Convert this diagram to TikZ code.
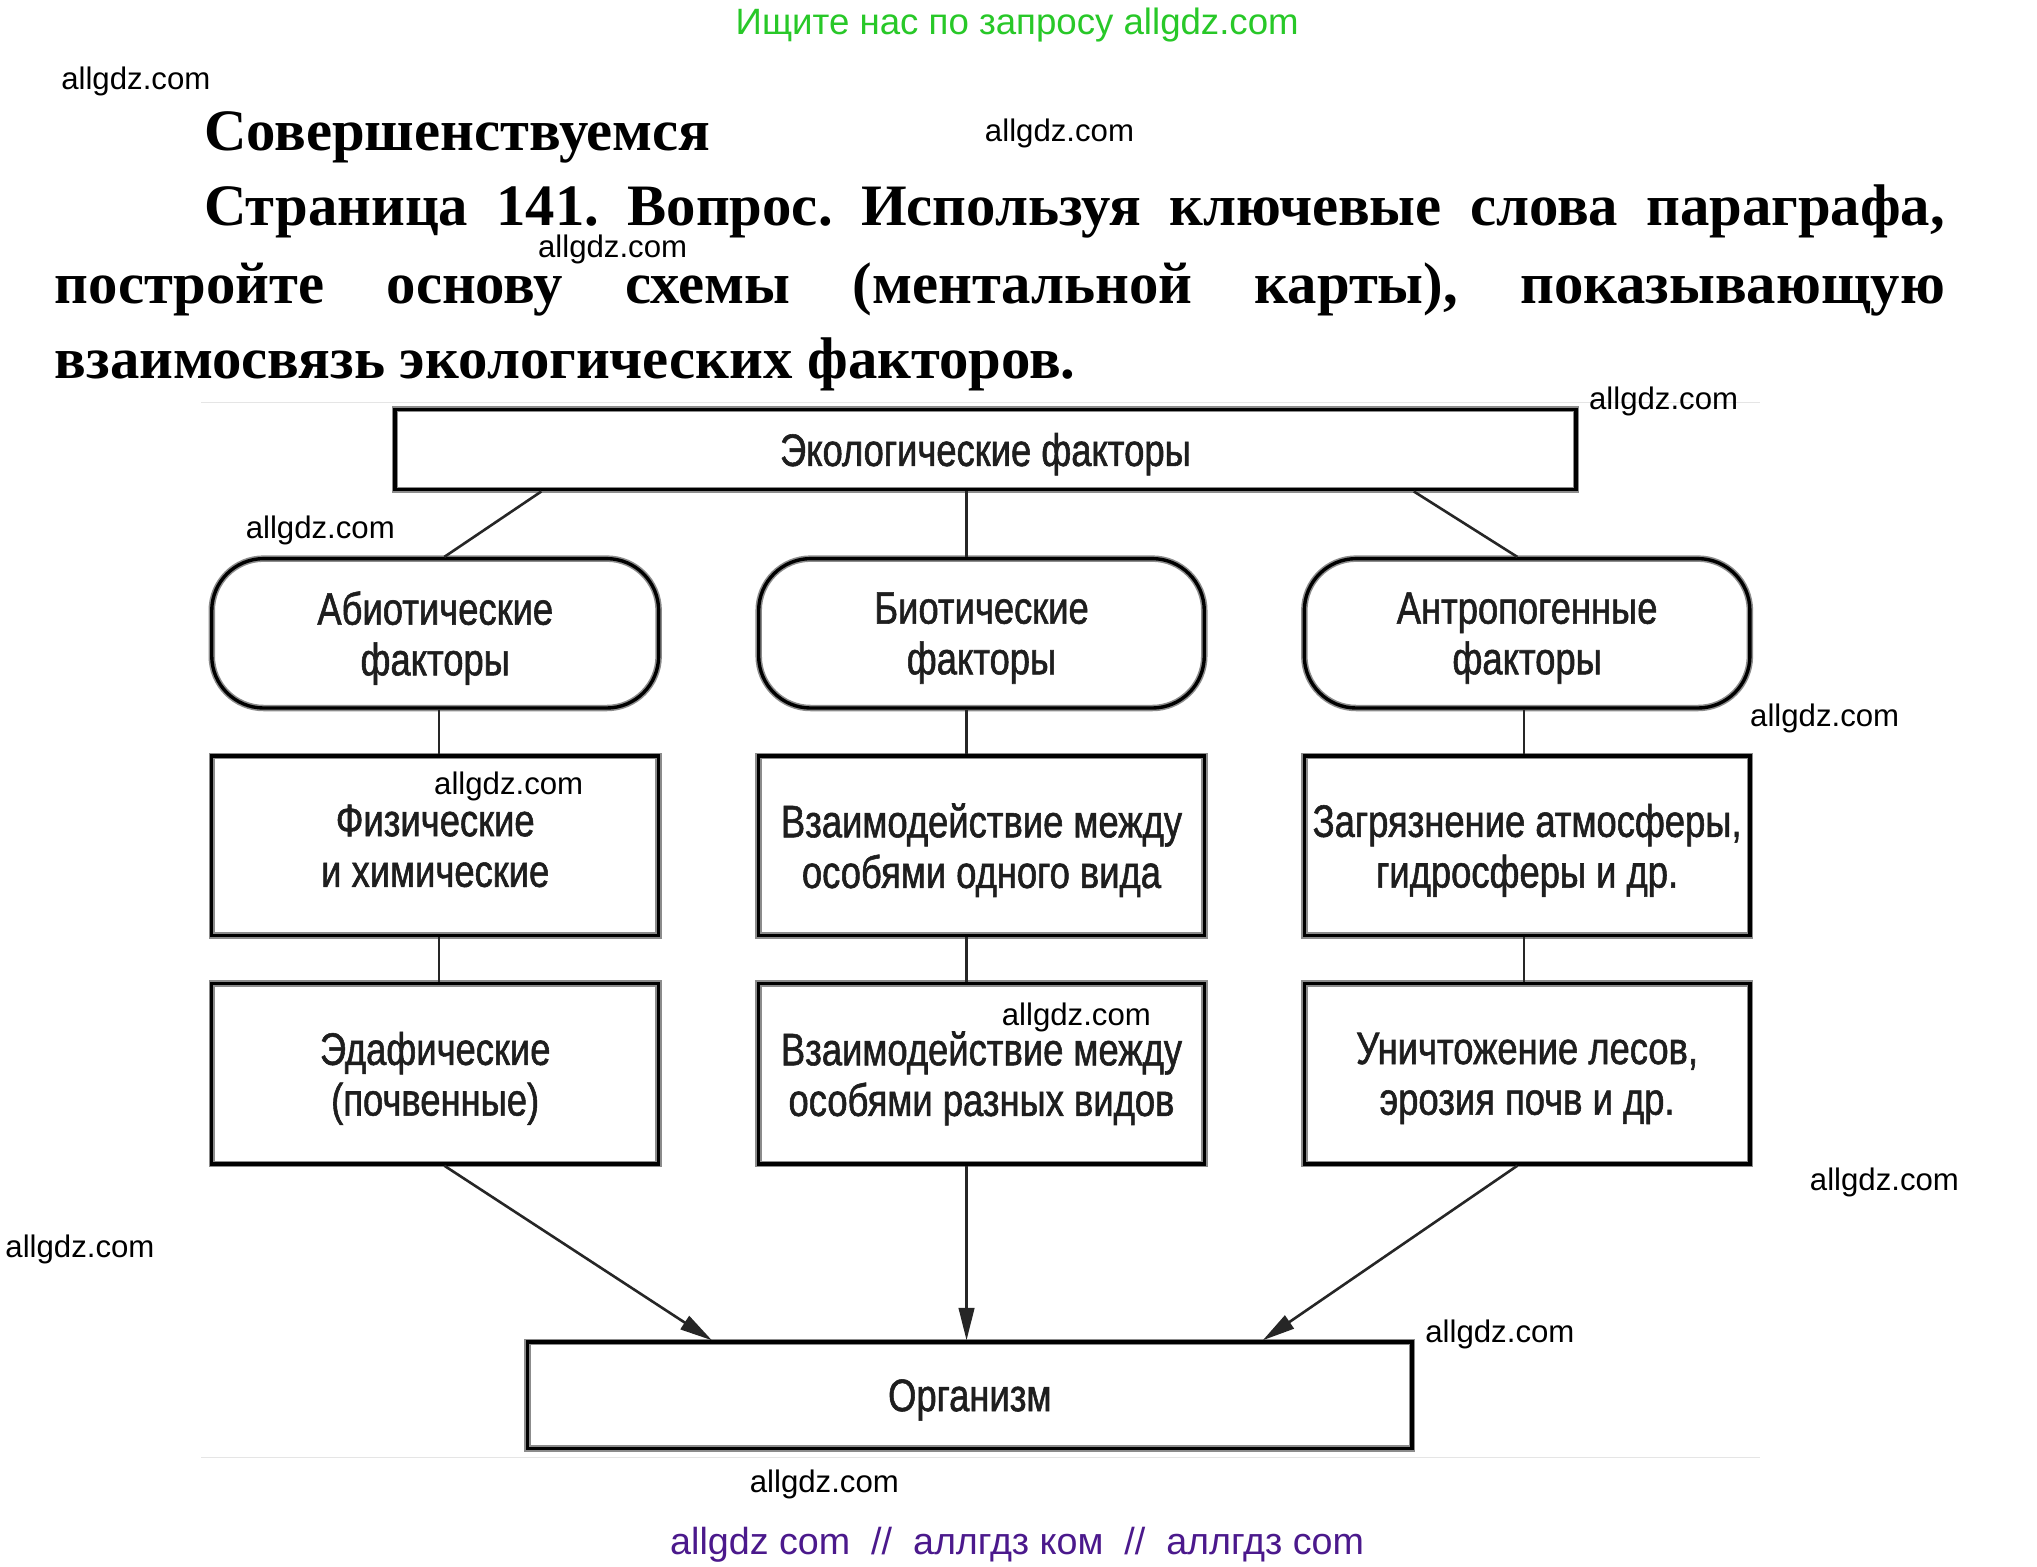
\documentclass[tikz,border=0pt]{standalone}
\usepackage{fontspec}
\setmainfont{Liberation Serif}
\newfontfamily\wm{Liberation Sans}
\newfontfamily\dfont[FakeStretch=0.8,FakeBold=1.2]{Liberation Sans}
\usetikzlibrary{arrows.meta,calc}
\definecolor{wgreen}{RGB}{40,200,40}
\definecolor{wpurple}{RGB}{75,25,140}
\definecolor{dtext}{RGB}{30,30,30}
\tikzset{
  wmark/.style={anchor=west,inner sep=0pt,font=\wm\fontsize{24}{26}\selectfont},
  ptext/.style={anchor=base west,inner sep=0pt,font=\bfseries\fontsize{45.2}{50}\selectfont},
  boxbase/.style={inner sep=0pt,align=center,text depth=0pt,text=dtext,font=\dfont\fontsize{35}{39}\selectfont},
  sqbox/.style={boxbase,draw=black,line width=2.6pt,
     preaction={draw=black!45,line width=5pt}},
  rbox/.style={sqbox,rounded corners=40pt},
  conn/.style={draw=black!85,line width=2pt},
  arr/.style={conn,-{Triangle[length=25pt,width=12pt]}}
}
\begin{document}
\frenchspacing
\begin{tikzpicture}[x=1pt,y=-1pt]
\useasboundingbox[fill=white] (0,0) rectangle (1568,1206);
% header texts
\node[inner sep=0pt,text=wgreen,font=\wm\fontsize{28.2}{30}\selectfont] (hdr) at (783,19) {Ищите нас по запросу allgdz.com};
\node[ptext] (title) at (157,115.5) {Совершенствуемся};
\node[ptext] (l1) at (157,173.5) {\makebox[1340pt][s]{Страница 141. Вопрос. Используя ключевые слова параграфа,}};
\node[ptext] (l2) at (42,233.5) {\makebox[1455pt][s]{постройте основу схемы (ментальной карты), показывающую}};
\node[ptext] (l3) at (42,291.5) {взаимосвязь экологических факторов.};
% diagram frame hint
\draw[black!10,line width=1pt] (155,310) -- (1355,310);
\draw[black!10,line width=1pt] (155,1122) -- (1355,1122);
% boxes
\node[sqbox,minimum width=909pt,minimum height=62pt] (top) at (758.5,346) {Экологические факторы};
\node[rbox,minimum width=344pt,minimum height=115pt] (abio) at (335,487.5) {Абиотические\\факторы};
\node[rbox,minimum width=343pt,minimum height=115pt] (bio) at (755.5,487.5) {Биотические\\факторы};
\node[rbox,minimum width=343pt,minimum height=115pt] (anth) at (1175.5,487.5) {Антропогенные\\факторы};
\node[sqbox,minimum width=344pt,minimum height=138pt] (a2) at (335,651) {Физические\\и химические};
\node[sqbox,minimum width=343pt,minimum height=138pt] (b2) at (755.5,651) {Взаимодействие между\\особями одного вида};
\node[sqbox,minimum width=343pt,minimum height=138pt] (c2) at (1175.5,651) {Загрязнение атмосферы,\\гидросферы и др.};
\node[sqbox,minimum width=344pt,minimum height=139pt] (a3) at (335,826.5) {Эдафические\\(почвенные)};
\node[sqbox,minimum width=343pt,minimum height=139pt] (b3) at (755.5,826.5) {Взаимодействие между\\особями разных видов};
\node[sqbox,minimum width=343pt,minimum height=139pt] (c3) at (1175.5,826.5) {Уничтожение лесов,\\эрозия почв и др.};
\node[sqbox,minimum width=681pt,minimum height=82pt] (org) at (746.5,1074) {Организм};
% connectors
\draw[conn] ($(top.south west)+(114,0)$) -- ($(abio.north)+(7,0)$);
\draw[conn] ($(top.south)+(-14.5,0)$) -- ($(bio.north)+(-11.5,0)$);
\draw[conn] ($(top.south east)+(-126,0)$) -- ($(anth.north)+(-7.5,0)$);
\draw[conn] ($(abio.south)+(3,0)$) -- ($(a2.north)+(3,0)$);
\draw[conn] ($(bio.south)+(-11.5,0)$) -- ($(b2.north)+(-11.5,0)$);
\draw[conn] ($(anth.south)+(-2.5,0)$) -- ($(c2.north)+(-2.5,0)$);
\draw[conn] ($(a2.south)+(3,0)$) -- ($(a3.north)+(3,0)$);
\draw[conn] ($(b2.south)+(-11.5,0)$) -- ($(b3.north)+(-11.5,0)$);
\draw[conn] ($(c2.south)+(-2.5,0)$) -- ($(c3.north)+(-2.5,0)$);
\draw[arr] ($(a3.south)+(7,0)$) -- ($(org.north)+(-198.5,0)$);
\draw[arr] ($(b3.south)+(-11.5,0)$) -- ($(org.north)+(-2.5,0)$);
\draw[arr] ($(c3.south)+(-7.5,0)$) -- ($(org.north)+(225.5,0)$);
% watermarks
\node[wmark] (w1) at (47,63) {allgdz.com};
\node[wmark] (w2) at (758,103) {allgdz.com};
\node[wmark] (w3) at (414,192) {allgdz.com};
\node[wmark] (w4) at (1223,309) {allgdz.com};
\node[wmark] (w5) at (189,408) {allgdz.com};
\node[wmark] (w6) at (1347,553) {allgdz.com};
\node[wmark] (w7) at (334,605) {allgdz.com};
\node[wmark] (w8) at (771,783) {allgdz.com};
\node[wmark] (w9) at (1393,910) {allgdz.com};
\node[wmark] (w10) at (4,962) {allgdz.com};
\node[wmark] (w11) at (1097,1027) {allgdz.com};
\node[wmark] (w12) at (577,1143) {allgdz.com};
\node[inner sep=0pt,text=wpurple,font=\wm\fontsize{29}{31}\selectfont] (ftr) at (783,1189) {allgdz com \ // \ аллгдз ком \ // \ аллгдз com};
\end{tikzpicture}
\end{document}
